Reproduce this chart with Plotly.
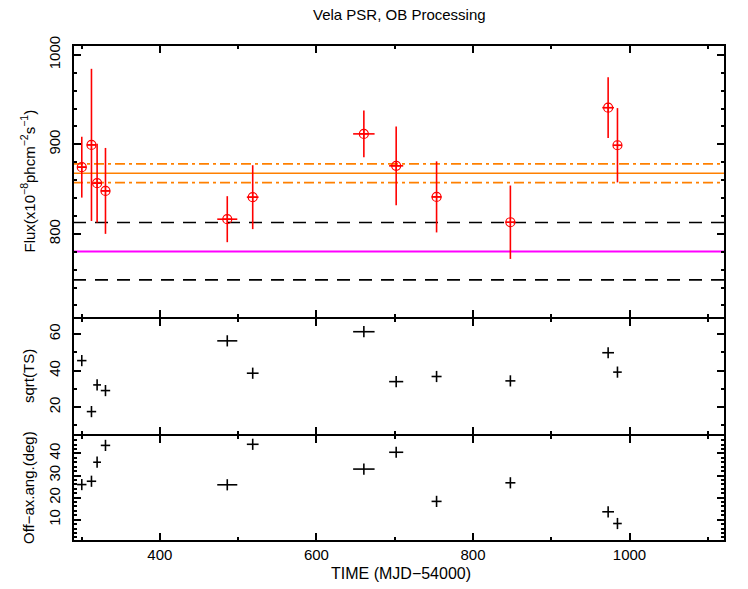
import plotly.graph_objects as go

# ---------------- data ----------------
time = [300.2, 312.6, 319.8, 330.5, 486.1, 518.6, 660.6, 701.9, 753.5, 847.8, 972.7, 984.6]
time_err = [6, 6, 5, 6, 12.8, 7.5, 13.7, 9, 6.4, 6.4, 7.5, 5.5]
flux = [874.5, 899.4, 856.6, 848.0, 816.4, 841.0, 911.7, 876.0, 841.3, 813.0, 941.0, 899.0]
flux_err = [34, 85, 44, 48, 25.7, 35.7, 26, 44, 39.7, 41, 34, 41.5]
sqrt_ts = [45.5, 17.6, 32.2, 29.1, 56.3, 38.6, 61.3, 34.0, 36.8, 34.4, 49.8, 39.2]
off_axis = [25.9, 27.4, 36.0, 43.6, 25.8, 44.1, 32.9, 40.5, 18.3, 26.7, 13.6, 8.3]

mean_flux = 867.8
mean_flux_band = [878.2, 857.3]
dashed_levels = [812.7, 748.6]
magenta_level = 780.3

title_text = "Vela PSR, OB Processing"
x_title = "TIME (MJD\u221254000)"
y_titles = ["Flux(x10<sup>\u22128</sup>phcm<sup>\u22122</sup>s<sup>\u22121</sup>)",
            "sqrt(TS)", "Off\u2212ax.ang.(deg)"]

# ---------------- figure ----------------
FONT = "Liberation Sans, Arial, Helvetica, sans-serif"
W, H = 748, 589
L, R, T, B = 73, 23, 45, 48
plot_h = H - T - B
y_top = 318
y_mid = 435
d_top0 = (H - B - y_top) / plot_h
d_mid0 = (H - B - y_mid) / plot_h

fig = go.Figure()

# top panel: flux
fig.add_trace(go.Scatter(
    x=time, y=flux, mode="markers", xaxis="x", yaxis="y",
    marker=dict(symbol="circle-cross-open", size=9, color="red",
                line=dict(color="red", width=1.2)),
    error_y=dict(type="data", array=flux_err, color="red", thickness=1.6, width=0),
    error_x=dict(type="data", array=time_err, color="red", thickness=1.6, width=0),
    showlegend=False))

# middle panel: sqrt(TS)
fig.add_trace(go.Scatter(
    x=time, y=sqrt_ts, mode="markers", xaxis="x2", yaxis="y2",
    marker=dict(symbol="line-ns", size=8, color="black",
                line=dict(color="black", width=1.6)),
    error_x=dict(type="data", array=time_err, color="black", thickness=1.6, width=0),
    showlegend=False))

# bottom panel: off-axis angle
fig.add_trace(go.Scatter(
    x=time, y=off_axis, mode="markers", xaxis="x3", yaxis="y3",
    marker=dict(symbol="line-ns", size=8, color="black",
                line=dict(color="black", width=1.6)),
    error_x=dict(type="data", array=time_err, color="black", thickness=1.6, width=0),
    showlegend=False))

# horizontal reference lines in top panel
def hline(y, color, dash, width):
    fig.add_shape(type="line", xref="x domain", yref="y", x0=0, x1=1, y0=y, y1=y,
                  line=dict(color=color, dash=dash, width=width), layer="below")

hline(mean_flux, "#ff8000", "solid", 1.5)
for v in mean_flux_band:
    hline(v, "#ff8000", "10px,4px,3px,4px", 1.8)
for v in dashed_levels:
    hline(v, "black", "13px,9px", 1.6)
hline(magenta_level, "#ff00ff", "solid", 2)

tickfont = dict(family=FONT, size=15, color="black")

def xax(domain_anchor, show_labels):
    return dict(
        range=[289, 1122], anchor=domain_anchor, showgrid=False, zeroline=False,
        showline=True, linecolor="black", linewidth=1, mirror="allticks",
        ticks="inside", ticklen=8, tickwidth=1.5, tickcolor="black",
        tick0=0, dtick=200, showticklabels=show_labels, tickfont=tickfont,
        ticklabelstandoff=0, automargin=False,
        minor=dict(dtick=100, ticklen=4, tickwidth=1.5, tickcolor="black",
                   ticks="inside", showgrid=False),
        domain=[0, 1])

def yax(rng, domain, dtick, minor_dtick, anchor):
    return dict(
        range=rng, domain=domain, anchor=anchor, showgrid=False, zeroline=False,
        showline=True, linecolor="black", linewidth=1, mirror="allticks",
        ticks="inside", ticklen=8, tickwidth=1.5, tickcolor="black",
        tick0=0, dtick=dtick, tickangle=-90, tickfont=tickfont,
        ticklabelstandoff=6, automargin=False,
        minor=dict(dtick=minor_dtick, ticklen=4, tickwidth=1.5, tickcolor="black",
                   ticks="inside", showgrid=False))

fig.update_layout(
    width=W, height=H,
    margin=dict(l=L, r=R, t=T, b=B),
    paper_bgcolor="white", plot_bgcolor="white",
    font=dict(family=FONT, size=15, color="black"),
    showlegend=False,
    xaxis=dict(xax("y", False), matches="x3"),
    xaxis2=dict(xax("y2", False), matches="x3"),
    xaxis3=xax("y3", True),
    yaxis=yax([706, 1011], [d_top0, 1], 100, 20, "x"),
    yaxis2=yax([4.8, 68.8], [d_mid0, d_top0], 20, 10, "x2"),
    yaxis3=yax([0.4, 48.3], [0, d_mid0], 10, 2, "x3"),
)

# outer frame, slightly heavier
fig.add_shape(type="rect", xref="paper", yref="paper", x0=0, x1=1, y0=0, y1=1,
              line=dict(color="black", width=2), layer="above")

# titles as annotations
def px_to_paper_y(py):
    return (H - B - py) / plot_h

def px_to_paper_x(px):
    return (px - L) / (W - L - R)

fig.add_annotation(text=title_text, xref="paper", yref="paper",
                   x=px_to_paper_x(399), y=px_to_paper_y(14),
                   xanchor="center", yanchor="middle", showarrow=False,
                   font=dict(family=FONT, size=15, color="black"))
fig.add_annotation(text=x_title, xref="paper", yref="paper",
                   x=px_to_paper_x(401), y=px_to_paper_y(573),
                   xanchor="center", yanchor="middle", showarrow=False,
                   font=dict(family=FONT, size=16, color="black"))
for txt, yc in zip(y_titles, [181.5, 376, 488]):
    fig.add_annotation(text=txt, xref="paper", yref="paper",
                       x=px_to_paper_x(28), y=px_to_paper_y(yc),
                       xanchor="center", yanchor="middle", showarrow=False,
                       textangle=-90,
                       font=dict(family=FONT, size=15, color="black"))

fig.write_html("out.html", config={"displayModeBar": False},
               post_script="document.body.style.margin='0';")
